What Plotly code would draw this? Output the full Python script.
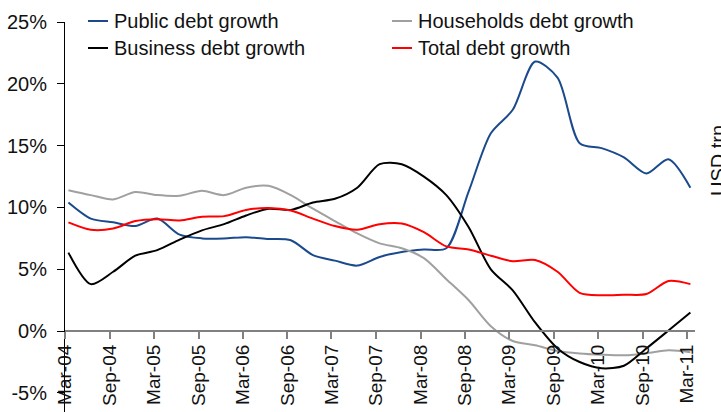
import plotly.graph_objects as go

# ---- data (quarterly, % y/y) ----
dates = [
    "2004-03-15", "2004-06-15", "2004-09-15", "2004-12-15",
    "2005-03-15", "2005-06-15", "2005-09-15", "2005-12-15",
    "2006-03-15", "2006-06-15", "2006-09-15", "2006-12-15",
    "2007-03-15", "2007-06-15", "2007-09-15", "2007-12-15",
    "2008-03-15", "2008-06-15", "2008-09-15", "2008-12-15",
    "2009-03-15", "2009-06-15", "2009-09-15", "2009-12-15",
    "2010-03-15", "2010-06-15", "2010-09-15", "2010-12-15",
    "2011-03-15",
]
public_debt = [10.4, 9.1, 8.8, 8.5, 9.1, 7.8, 7.5, 7.5, 7.6, 7.45, 7.35, 6.15, 5.7, 5.3,
               6.0, 6.4, 6.6, 6.7, 11.3, 16.0, 17.9, 21.8, 20.5, 15.2, 14.8, 14.05, 12.75,
               13.9, 11.6]
households_debt = [11.4, 11.0, 10.65, 11.25, 11.0, 10.95, 11.35, 11.0, 11.6, 11.75, 11.0,
                   9.9, 8.9, 7.9, 7.1, 6.7, 5.9, 4.2, 2.5, 0.4, -0.8, -1.15, -1.6, -1.8,
                   -1.9, -1.95, -1.8, -1.55, -1.7]
business_debt = [6.35, 3.8, 4.8, 6.1, 6.55, 7.4, 8.15, 8.65, 9.35, 9.9, 9.8, 10.4, 10.7,
                 11.6, 13.5, 13.5, 12.5, 11.0, 8.4, 5.0, 3.3, 0.7, -1.4, -2.5, -3.0, -2.8,
                 -1.4, 0.05, 1.5]
total_debt = [8.8, 8.2, 8.3, 8.9, 9.05, 8.95, 9.25, 9.3, 9.8, 9.95, 9.75, 9.1, 8.5, 8.2,
              8.65, 8.7, 8.0, 6.85, 6.6, 6.1, 5.65, 5.75, 4.8, 3.1, 2.9, 2.95, 3.0, 4.05, 3.8]

series_names = ["Public debt growth", "Households debt growth",
                "Business debt growth", "Total debt growth"]

tick_dates = ["2004-03-01", "2004-09-01", "2005-03-01", "2005-09-01", "2006-03-01",
              "2006-09-01", "2007-03-01", "2007-09-01", "2008-03-01", "2008-09-01",
              "2009-03-01", "2009-09-01", "2010-03-01", "2010-09-01", "2011-03-01"]
tick_labels = ["Mar-04", "Sep-04", "Mar-05", "Sep-05", "Mar-06", "Sep-06", "Mar-07",
               "Sep-07", "Mar-08", "Sep-08", "Mar-09", "Sep-09", "Mar-10", "Sep-10",
               "Mar-11"]
y_ticks = [-5, 0, 5, 10, 15, 20, 25]
y_labels = ["-5%", "0%", "5%", "10%", "15%", "20%", "25%"]

# ---- styling ----
FONT = "Liberation Sans, Arial, sans-serif"
colors = ["#1b4a8c", "#a0a0a0", "#000000", "#ff0000"]
values = [public_debt, households_debt, business_debt, total_debt]

W, H = 721, 412
ML, MR, MT, MB = 65, 26, 22, 0
y_range = [-6.54, 25]
x_range = ["2004-03-01", "2011-04-03"]

fig = go.Figure()
for name, vals, col in zip(series_names, values, colors):
    fig.add_trace(go.Scatter(
        x=dates, y=vals, name=name, mode="lines",
        line=dict(color=col, width=2, shape="spline", smoothing=0.8),
        showlegend=False,
    ))

zero_pos = (0 - y_range[0]) / (y_range[1] - y_range[0])

fig.update_layout(
    width=W, height=H,
    margin=dict(l=ML, r=MR, t=MT, b=MB, pad=0, autoexpand=False),
    paper_bgcolor="white", plot_bgcolor="white",
    font=dict(family=FONT, size=20, color="#111111"),
    xaxis=dict(
        type="date", range=x_range, automargin=False,
        tickvals=tick_dates, ticktext=tick_labels, tickangle=-90,
        showgrid=False, zeroline=False,
        showline=True, linecolor="#808080", linewidth=2,
        ticks="outside", ticklen=7, tickwidth=1.5, tickcolor="#808080",
        anchor="free", position=zero_pos,
        ticklabelstandoff=-2,
        tickfont=dict(family=FONT, size=19, color="#111111"),
    ),
    yaxis=dict(
        range=y_range, tickvals=y_ticks, ticktext=y_labels, automargin=False,
        showgrid=False, zeroline=False,
        showline=True, linecolor="#000000", linewidth=1,
        ticks="outside", ticklen=7, tickwidth=1, tickcolor="#000000",
        ticklabelstandoff=6,
        tickfont=dict(family=FONT, size=20, color="#111111"),
    ),
)

# manual legend (two columns)
PW, PH = W - ML - MR, H - MT - MB
def px_x(px):
    return (px - ML) / PW
def px_y(py):
    return (H - MB - py) / PH

legend_pos = [(88, 21), (392, 21), (88, 48), (392, 48)]
for name, col, (lx, ly) in zip(series_names, colors, legend_pos):
    fig.add_shape(type="line", xref="paper", yref="paper",
                  x0=px_x(lx), x1=px_x(lx + 20), y0=px_y(ly), y1=px_y(ly),
                  line=dict(color=col, width=2))
    fig.add_annotation(text=name, xref="paper", yref="paper",
                       x=px_x(lx + 24), y=px_y(ly), xanchor="left", yanchor="middle",
                       showarrow=False, font=dict(family=FONT, size=20, color="#111111"))

fig.add_annotation(text="USD trn", xref="paper", yref="paper",
                   x=px_x(718), y=px_y(161), xanchor="center", yanchor="middle",
                   textangle=-90, showarrow=False,
                   font=dict(family=FONT, size=20, color="#111111"))

fig.write_html("out.html")
